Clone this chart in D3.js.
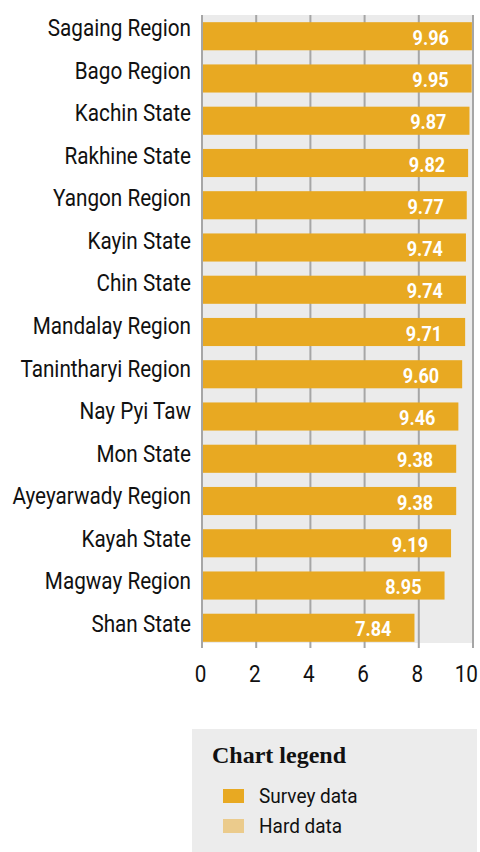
<!DOCTYPE html>
<html>
<head>
<meta charset="utf-8">
<script src="https://cdn.jsdelivr.net/npm/d3@7"></script>
<style>
  html, body { margin: 0; padding: 0; background: #ffffff; }
  svg { display: block; }
</style>
</head>
<body>
<svg id="chart" width="480" height="852"></svg>
<script>
// Regions and states, top to bottom
const categories = [
  "Sagaing Region", "Bago Region", "Kachin State", "Rakhine State", "Yangon Region",
  "Kayin State", "Chin State", "Mandalay Region", "Tanintharyi Region", "Nay Pyi Taw",
  "Mon State", "Ayeyarwady Region", "Kayah State", "Magway Region", "Shan State"
];
// Survey data scores
const surveyValues = [9.96, 9.95, 9.87, 9.82, 9.77, 9.74, 9.74, 9.71, 9.60, 9.46, 9.38, 9.38, 9.19, 8.95, 7.84];
const tickValues = [0, 2, 4, 6, 8, 10];
const legendItems = ["Survey data", "Hard data"];

const surveyColor = "#e8a922";
const hardColor = "#ebcb8c";
const condensed = 0.9;

const svg = d3.select("#chart");
const plotLeft = 202, plotRight = 473, plotTop = 15, plotBottom = 643;

const x = d3.scaleLinear().domain([0, 10]).range([plotLeft, plotRight]);
const y = d3.scaleBand().domain(categories).range([plotTop, 649])
  .paddingInner(0.335).paddingOuter(0.17);
// baselines of the category labels
const yLabel = d3.scalePoint().domain(categories).range([36, 632]);

// plot background
svg.append("rect")
  .attr("x", plotLeft).attr("y", plotTop)
  .attr("width", plotRight - plotLeft).attr("height", plotBottom - plotTop)
  .attr("fill", "#ebebeb");

// vertical grid lines with ticks extending below the panel
svg.append("g").selectAll("line").data(tickValues).join("line")
  .attr("x1", d => x(d)).attr("x2", d => x(d))
  .attr("y1", plotTop).attr("y2", plotBottom + 5)
  .attr("stroke", "#a6a6a6").attr("stroke-width", 2);

// bars
svg.append("g").selectAll("rect").data(surveyValues).join("rect")
  .attr("x", x(0) + 1)
  .attr("y", (d, i) => y(categories[i]))
  .attr("width", d => x(d) - x(0) - 1)
  .attr("height", y.bandwidth())
  .attr("fill", surveyColor);

// value labels inside bars
svg.append("g").selectAll("text").data(surveyValues).join("text")
  .attr("transform", (d, i) => `translate(${x(d) - 23},${y(categories[i]) + y.bandwidth() - 5.5}) scale(0.86,1)`)
  .attr("text-anchor", "end")
  .attr("font-family", "Roboto, sans-serif")
  .attr("font-weight", 700)
  .attr("font-size", 21)
  .attr("fill", "#ffffff")
  .text(d => d.toFixed(2));

// category labels
svg.append("g").selectAll("text").data(categories).join("text")
  .attr("transform", d => `translate(191,${yLabel(d)}) scale(${condensed},1)`)
  .attr("text-anchor", "end")
  .attr("font-family", "Roboto, sans-serif")
  .attr("font-size", 23)
  .attr("fill", "#111111")
  .text(d => d);

// x axis tick labels; the last one is kept inside the page edge
svg.append("g").selectAll("text").data(tickValues).join("text")
  .attr("transform", (d, i) => i === tickValues.length - 1
    ? `translate(478,682) scale(${condensed},1)`
    : `translate(${x(d) - 1.5},682) scale(${condensed},1)`)
  .attr("text-anchor", (d, i) => i === tickValues.length - 1 ? "end" : "middle")
  .attr("font-family", "Roboto, sans-serif")
  .attr("font-size", 23)
  .attr("fill", "#111111")
  .text(d => d);

// legend
const legend = svg.append("g");
legend.append("rect")
  .attr("x", 192).attr("y", 729).attr("width", 285).attr("height", 123)
  .attr("fill", "#ececec");
legend.append("text")
  .attr("x", 212).attr("y", 763)
  .attr("font-family", "'Liberation Serif', serif")
  .attr("font-weight", 700)
  .attr("font-size", 24)
  .attr("fill", "#111111")
  .text("Chart legend");
const legendColors = [surveyColor, hardColor];
legendItems.forEach((label, i) => {
  legend.append("rect")
    .attr("x", 223).attr("y", 789 + i * 30).attr("width", 21).attr("height", 14)
    .attr("fill", legendColors[i]);
  legend.append("text")
    .attr("transform", `translate(259,${803 + i * 30}) scale(0.95,1)`)
    .attr("font-family", "Roboto, sans-serif")
    .attr("font-size", 20)
    .attr("fill", "#111111")
    .text(label);
});
</script>
</body>
</html>
